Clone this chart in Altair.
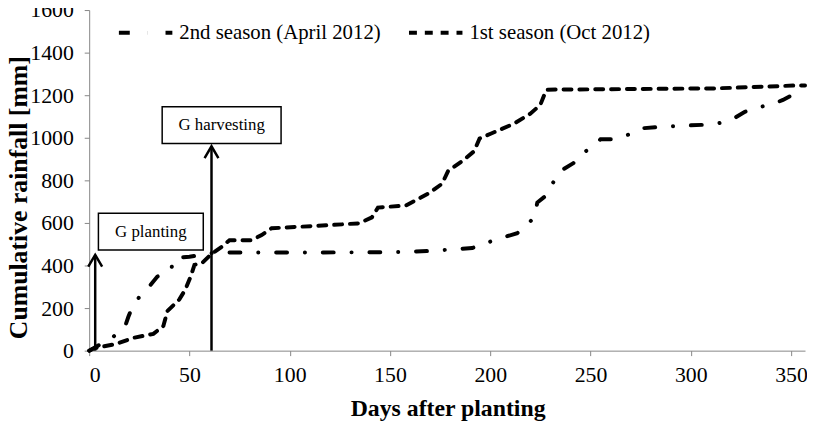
import altair as alt
import pandas as pd

# ---- data ----
season_names = ["2nd season (April 2012)", "1st season (Oct 2012)"]

day_1st = [0, 2, 13.6, 22, 32, 37, 39, 45, 48, 50.6, 52.5, 56.5, 60.5, 66, 70, 81, 86, 91,
           113, 134.5, 141, 144, 158, 169, 176, 179, 186, 192, 194.7, 200.5, 212, 220, 225,
           228, 312, 353.5, 357]
mm_1st = [0, 10, 32, 60, 79, 116, 186, 241, 288, 348, 403, 413, 450, 487, 519, 519, 543, 575,
          586, 598, 626, 672, 682, 737, 784, 844, 890, 937, 997, 1020, 1067, 1113, 1155,
          1226, 1232, 1246, 1246]

day_2nd = [0, 2, 12, 18, 19.5, 22, 27, 30, 34, 40.7, 42.7, 50, 61.5, 70, 150, 169, 191, 202,
           213.5, 219, 222, 223.5, 229, 231, 235, 241.5, 244, 250, 255, 261, 268, 275, 287.5,
           299, 309, 315.6, 320.5, 327, 335, 340, 346, 351.6, 357]
mm_2nd = [0, 10, 65, 116, 158, 218, 274, 302, 348, 380, 436, 441, 459, 461, 462, 468, 482, 519,
          552, 598, 626, 696, 737, 784, 844, 881, 914, 951, 993, 993, 1011, 1044, 1053,
          1058, 1062, 1071, 1085, 1122, 1146, 1155, 1178, 1206, 1228]

# annotations (data coordinates)
arrow_labels = ["G planting", "G harvesting"]
arrow_day = [3, 61]
arrow_tip_mm = [450, 960]
box_day_left = [4.6, 36.4]
box_day_right = [56.9, 95.7]
box_mm_bottom = [473, 973]
box_mm_top = [646, 1146]

x_ticks = [0, 50, 100, 150, 200, 250, 300, 350]
y_ticks = [0, 200, 400, 600, 800, 1000, 1200, 1400, 1600]

# ---- tables ----
lines = pd.concat([
    pd.DataFrame({"day": day_2nd, "mm": mm_2nd, "season": season_names[0]}),
    pd.DataFrame({"day": day_1st, "mm": mm_1st, "season": season_names[1]}),
], ignore_index=True)

ann = pd.DataFrame({
    "label": arrow_labels,
    "day": arrow_day,
    "tip": arrow_tip_mm,
    "base": [0, 0],
    "bx1": box_day_left,
    "bx2": box_day_right,
    "by1": box_mm_bottom,
    "by2": box_mm_top,
})
ann["tx"] = (ann["bx1"] + ann["bx2"]) / 2
ann["ty"] = (ann["by1"] + ann["by2"]) / 2

FONT = "Liberation Serif"
xscale = alt.Scale(domain=[0, 357], nice=False, zero=False)
yscale = alt.Scale(domain=[0, 1600], nice=False)

x_axis = alt.Axis(values=x_ticks, title="Days after planting", format="d")
y_axis = alt.Axis(values=y_ticks, title="Cumulative rainfall [mm]", format="d")

line_layer = alt.Chart(lines).mark_line(color="black", strokeWidth=4, strokeCap="round").encode(
    x=alt.X("day:Q", scale=xscale, axis=x_axis),
    y=alt.Y("mm:Q", scale=yscale, axis=y_axis),
    strokeDash=alt.StrokeDash(
        "season:N",
        scale=alt.Scale(domain=season_names, range=[[11, 18, 0.1, 18], [8, 8]]),
        legend=alt.Legend(
            title=None, orient="none", direction="horizontal", legendX=28, legendY=-6,
            labelFont=FONT, labelFontSize=21, labelColor="black", labelOffset=5,
            labelLimit=0,
            symbolType="stroke", symbolSize=2916, symbolStrokeWidth=4,
            symbolStrokeColor="black", columnPadding=20, padding=0,
        ),
    ),
    order="day:Q",
)

rule_layer = alt.Chart(ann).mark_rule(color="black", strokeWidth=2.5).encode(
    x=alt.X("day:Q", scale=xscale, axis=x_axis),
    y=alt.Y("base:Q", scale=yscale, axis=y_axis),
    y2="tip:Q",
)

head_layer = alt.Chart(ann).mark_point(
    shape="M-0.5,0.85L0,0L0.5,0.85", filled=False, color="black", strokeWidth=2.5,
    size=784, opacity=1,
).encode(
    x=alt.X("day:Q", scale=xscale, axis=x_axis),
    y=alt.Y("tip:Q", scale=yscale, axis=y_axis),
)

box_layer = alt.Chart(ann).mark_rect(fill="white", stroke="black", strokeWidth=1.5).encode(
    x=alt.X("bx1:Q", scale=xscale, axis=x_axis),
    x2="bx2:Q",
    y=alt.Y("by1:Q", scale=yscale, axis=y_axis),
    y2="by2:Q",
)

text_layer = alt.Chart(ann).mark_text(font=FONT, fontSize=17, color="black",
                                      baseline="middle", align="center").encode(
    x=alt.X("tx:Q", scale=xscale, axis=x_axis),
    y=alt.Y("ty:Q", scale=yscale, axis=y_axis),
    text="label:N",
)

chart = alt.layer(line_layer, rule_layer, head_layer, box_layer, text_layer).properties(
    width=723, height=344,
    autosize=alt.AutoSizeParams(type="none"),
    padding={"left": 82, "top": 0, "right": 2, "bottom": 72},
).configure_view(stroke=None).configure_axis(
    grid=False, domainColor="#868686", tickColor="#868686", tickSize=5,
    labelFont=FONT, labelFontSize=22, labelColor="black",
    titleFont=FONT, titleFontWeight="bold", titleColor="black",
    labelOverlap=False,
).configure_axisX(
    labelPadding=9, titleFontSize=24, titleX=362, titleY=65,
    titleBaseline="alphabetic", titleAlign="center",
).configure_axisY(
    labelPadding=11, titleFontSize=26, titleX=-71, titleY=189,
    titleBaseline="middle", titleAlign="center", titleAngle=270,
)

chart.save("out.html", embed_options={"renderer": "svg", "actions": False})
